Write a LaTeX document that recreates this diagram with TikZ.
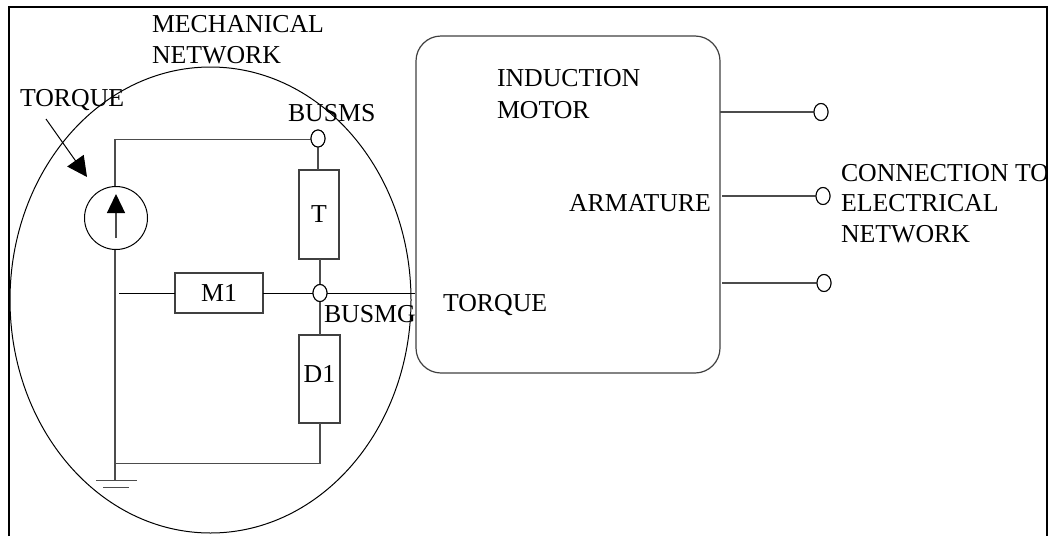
\documentclass[tikz,border=0pt]{standalone}
\usepackage{fontspec}
\setmainfont{Liberation Serif}
\usetikzlibrary{shapes.geometric,arrows.meta}
\tikzset{
  lbl/.style={inner sep=0pt,outer sep=0pt,anchor=base west,font=\fontsize{25.8}{30}\selectfont,align=left},
  boxed/.style={draw=black!75,line width=1.3pt,fill=none,inner sep=0pt,outer sep=0pt,minimum width=#1,font=\fontsize{25.8}{30}\selectfont},
  wire/.style={draw=black!70,line width=1.3pt},
  thin wire/.style={draw=black,line width=1pt},
  term/.style={draw=black,fill=white,line width=1pt,ellipse,inner sep=0pt,outer sep=0pt,minimum width=14pt,minimum height=17pt},
}
\begin{document}
\begin{tikzpicture}[x=1pt,y=-1pt]
\useasboundingbox (0,0) rectangle (1052,536);
% frame
\coordinate (fa) at (9,536);
\coordinate (fb) at (9,7);
\coordinate (fc) at (1047,7);
\coordinate (fd) at (1047,536);
\draw[line width=2.6pt,line cap=butt] (fa) -- (fb) -- (fc) -- (fd);
% main shapes
\node[ellipse,draw=black,line width=1pt,inner sep=0pt,minimum width=401pt,minimum height=466pt] (net) at (210.5,300) {};
\node[rectangle,rounded corners=25pt,draw=black!75,line width=1.2pt,inner sep=0pt,minimum width=304pt,minimum height=337pt] (motor) at (568,204.5) {};
% elements
\node[rectangle,boxed=40pt,minimum height=89pt] (T) at (319,214.5) {\raisebox{1pt}{T}};
\node[rectangle,boxed=88pt,minimum height=40pt] (M1) at (219,293) {M1};
\node[rectangle,boxed=41pt,minimum height=88pt] (D1) at (319.5,379) {\raisebox{11pt}{D1}};
\node[circle,draw=black,line width=1pt,inner sep=0pt,minimum size=63pt] (src) at (116,218) {};
\node[term] (busms) at (318,138.5) {};
\node[term] (busmg) at (320,293) {};
\node[term] (p1) at (821,112) {};
\node[term] (p2) at (823,196) {};
\node[term] (p3) at (824,283) {};
% named free points
\coordinate (corner) at (115,139.3);
\coordinate (mleft) at (119,293);
\coordinate (gnd) at (115,480.5);
\coordinate (dcorner) at (320,463.5);
\coordinate (dleft) at (115,463.5);
\coordinate (mtr) at (motor.west |- busmg);
\coordinate (r1) at (720,112);
\coordinate (r2) at (722,196);
\coordinate (r3) at (722,283);
\coordinate (g1a) at (96,480.5);
\coordinate (g1b) at (137,480.5);
\coordinate (g2a) at (103,487);
\coordinate (g2b) at (129,487);
\coordinate (ta) at (46,119);
\coordinate (tb) at (87,177);
\coordinate (sa) at (116,238);
\coordinate (sb) at (116,194);
% connectors
\draw[wire] (src.north -| corner) -- (corner) -- (corner -| busms.west);
\draw[wire] (busms) -- (T.north -| busms);
\draw[wire] (T.south -| busmg) -- (busmg);
\draw[wire] (busmg) -- (D1.north -| busmg);
\draw[wire] (D1.south -| busmg) -- (dcorner) -- (dleft);
\draw[wire] (src.south -| corner) -- (gnd);
\draw[thin wire] (mleft) -- (M1);
\draw[thin wire] (M1) -- (busmg);
\draw[thin wire] (busmg) -- (mtr);
\draw[wire] (r1) -- (p1);
\draw[wire] (r2) -- (p2);
\draw[wire] (r3) -- (p3);
\draw[wire,line width=1pt] (g1a) -- (g1b);
\draw[wire,line width=1pt] (g2a) -- (g2b);
\draw[thin wire,-{Triangle[length=20pt,width=20pt]}] (ta) -- (tb);
\draw[wire,-{Triangle[length=19pt,width=18pt,color=black]}] (sa) -- (sb);
% redraw terminals over wires
\node[term] at (busms) {};
\node[term] at (busmg) {};
\node[term] at (p1) {};
\node[term] at (p2) {};
\node[term] at (p3) {};
% labels
\node[lbl] (l1) at (152,32) {MECHANICAL};
\node[lbl] (l2) at (152,63) {NETWORK};
\node[lbl] (l3) at (20,106) {TORQUE};
\node[lbl] (l4) at (288,121) {BUSMS};
\node[lbl] (l5) at (324,322) {BUSMG};
\node[lbl] (l6) at (443,311) {TORQUE};
\node[lbl] (l7) at (497,86) {INDUCTION};
\node[lbl] (l8) at (497,118) {MOTOR};
\node[lbl] (l9) at (569,211) {ARMATURE};
\node[lbl] (l10) at (841,181) {CONNECTION TO};
\node[lbl] (l11) at (841,211) {ELECTRICAL};
\node[lbl] (l12) at (841,242) {NETWORK};
\end{tikzpicture}
\end{document}
